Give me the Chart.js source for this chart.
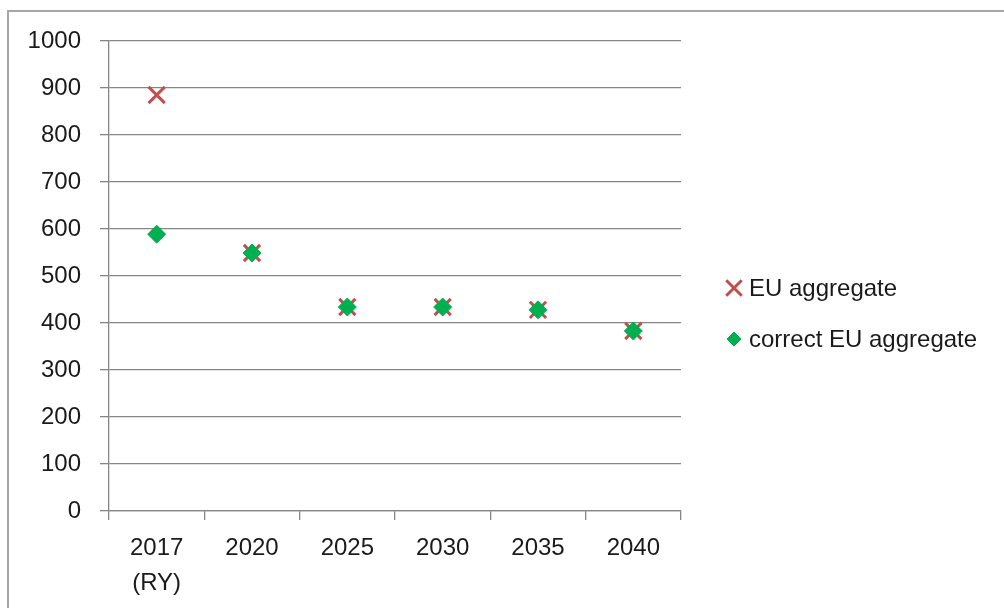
<!DOCTYPE html>
<html>
<head>
<meta charset="utf-8">
<script src="https://cdn.jsdelivr.net/npm/chart.js"></script>
<style>
  html, body { margin: 0; padding: 0; background: #fff; }
  #wrap { width: 1004px; height: 608px; position: relative; }
</style>
</head>
<body>
<div id="wrap"><canvas id="scatterChart"></canvas></div>
<script>
// data
const categories = [['2017', '(RY)'], '2020', '2025', '2030', '2035', '2040'];
const euAggregate = [885, 549, 434, 434, 428, 383];
const correctEuAggregate = [589, 549, 434, 434, 428, 383];
const yTicks = [0, 100, 200, 300, 400, 500, 600, 700, 800, 900, 1000];

const red = '#C0504D';
const green = '#00B050';
const gridColor = '#868686';
const fontFamily = '"Liberation Sans", Arial, sans-serif';

// outer frame (only top and left edges are visible in the picture)
const framePlugin = {
  id: 'frame',
  beforeDraw(chart) {
    const ctx = chart.ctx;
    ctx.save();
    ctx.strokeStyle = '#A6A6A6';
    ctx.lineWidth = 2;
    ctx.beginPath();
    ctx.moveTo(8, chart.height);
    ctx.lineTo(8, 11);
    ctx.lineTo(chart.width, 11);
    ctx.stroke();
    ctx.restore();
  }
};

// legend on the right, drawn from the dataset styles
const legendPlugin = {
  id: 'sideLegend',
  afterDraw(chart) {
    const ctx = chart.ctx;
    const items = [chart.data.datasets[0], chart.data.datasets[1]];
    const x0 = 734, ys = [288, 339];
    ctx.save();
    items.forEach((ds, i) => {
      ctx.strokeStyle = ds.borderColor;
      ctx.fillStyle = ds.backgroundColor;
      ctx.lineWidth = ds.borderWidth;
      Chart.helpers.drawPoint(ctx, {
        pointStyle: ds.pointStyle,
        radius: ds.legendRadius,
        borderWidth: ds.borderWidth
      }, x0, ys[i]);
      ctx.fillStyle = '#1a1a1a';
      ctx.font = '24px ' + fontFamily;
      ctx.textBaseline = 'middle';
      ctx.textAlign = 'left';
      ctx.fillText(ds.label, x0 + 15, ys[i] + 1);
    });
    ctx.restore();
  }
};

const ctx = document.getElementById('scatterChart').getContext('2d');

const chart = new Chart(ctx, {
  type: 'line',
  data: {
    labels: categories,
    datasets: [{
      label: 'EU aggregate',
      data: euAggregate,
      showLine: false,
      pointStyle: 'crossRot',
      pointRadius: 11.5,
      legendRadius: 11,
      borderWidth: 3,
      borderColor: red,
      backgroundColor: red,
      order: 2
    }, {
      label: 'correct EU aggregate',
      data: correctEuAggregate,
      showLine: false,
      pointStyle: 'rectRot',
      pointRadius: 9,
      legendRadius: 7,
      borderWidth: 1,
      borderColor: green,
      backgroundColor: green,
      order: 1
    }]
  },
  options: {
    responsive: true,
    maintainAspectRatio: false,
    animation: false,
    layout: {
      padding: { top: 41, right: 323, left: 0, bottom: 0 }
    },
    plugins: {
      legend: { display: false },
      tooltip: { enabled: false }
    },
    scales: {
      x: {
        offset: true,
        grid: {
          offset: true,
          drawOnChartArea: false,
          drawTicks: true,
          tickLength: 9,
          color: gridColor,
          lineWidth: 1.3
        },
        border: { color: gridColor, width: 1.3 },
        ticks: {
          color: '#1a1a1a',
          padding: 11,
          maxRotation: 0,
          autoSkip: false,
          font: { family: fontFamily, size: 24, lineHeight: 1.45 }
        },
        afterFit(scale) { scale.height = 97; }
      },
      y: {
        min: 0,
        max: 1000,
        afterBuildTicks(scale) {
          scale.ticks = yTicks.map(v => ({ value: v }));
        },
        grid: {
          drawTicks: true,
          tickLength: 9,
          color: gridColor,
          lineWidth: 1.3
        },
        border: { color: gridColor, width: 1.3 },
        ticks: {
          color: '#1a1a1a',
          padding: 19,
          font: { family: fontFamily, size: 24 },
          callback: v => String(v)
        },
        afterFit(scale) { scale.width = 109; }
      }
    }
  },
  plugins: [framePlugin, legendPlugin]
});
</script>
</body>
</html>
